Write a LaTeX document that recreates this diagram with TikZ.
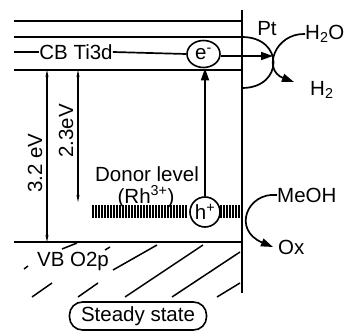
\documentclass[tikz,border=0pt]{standalone}
\usepackage{fontspec}
\setmainfont{Liberation Sans}
\usetikzlibrary{arrows.meta,shapes.geometric}
\tikzset{
  lvl/.style={line width=1.7pt},
  wall/.style={line width=2.3pt},
  lbl/.style={font=\fontsize{20.5}{23}\selectfont, inner sep=0pt},
  carrier/.style={ellipse, draw, line width=1.6pt, inner sep=0pt, font=\fontsize{20.5}{23}\selectfont},
  evarrow/.style={line width=1.7pt, {Stealth[length=7pt,width=3pt]}-{Stealth[length=7pt,width=3pt]}},
  bold arrow/.style={line width=1.7pt, -{Triangle[length=12pt,width=8pt]}},
  hatch/.style={line width=1.5pt},
  bar/.style={line width=1.4pt}
}
\begin{document}
\begin{tikzpicture}[x=1pt,y=-1pt]
\useasboundingbox (0,0) rectangle (348,331);
% energy levels
\draw[lvl] (14,21) -- (242,21);
\draw[lvl] (14,37) -- (242,37);
\draw[lvl] (14,70) -- (242,70);
\draw[lvl] (14,242) -- (242,242);
% surface wall
\draw[wall] (242,10) -- (242,293);
% carriers
\node[carrier, minimum width=33pt, minimum height=27pt] (e) at (203.5,54) {e\textsuperscript{-}};
\node[carrier, minimum width=30pt, minimum height=30pt] (h) at (205,212) {h\textsuperscript{+}};
% CB label line
\node[lbl] (cb) at (76,52) {CB Ti3d};
\draw[lvl] (14,52) -- (cb.west);
\draw[lvl] (cb.east) -- (e.west);
% donor level bars
\foreach \x in {93,96,...,187} \draw[bar] (\x,205) -- (\x,218);
\foreach \x in {221,224,...,240} \draw[bar] (\x,205) -- (\x,218);
\node[lbl] (don) at (147,174) {Donor level};
\node[lbl] (rh) at (146,196.5) {(Rh\textsuperscript{3+})};
% excitation arrow
\draw[bold arrow] (h.north) -- (h.north |- e.south);
% electron to Pt
\coordinate (ptin) at (273,56);
\draw[bold arrow] (e.east |- ptin) -- (ptin);
% Pt particle
\draw[line width=1.7pt] (242,37) .. controls (284,37) and (284,88) .. (242,88);
\node[lbl] (pt) at (267,29) {Pt};
% H2O -> H2
\node[lbl, anchor=west] (h2o) at (305,34) {H\textsubscript{2}O};
\node[lbl, anchor=west] (h2) at (310,90) {H\textsubscript{2}};
\coordinate (h2tip) at (294,82);
\draw[bold arrow] (h2o.west) .. controls (275,33) and (262,70) .. (h2tip);
% MeOH -> Ox
\node[lbl, anchor=west] (meoh) at (277,195) {MeOH};
\node[lbl, anchor=west] (ox) at (278,247) {Ox};
\coordinate (oxtip) at (273,247);
\draw[bold arrow] (meoh.west) .. controls (247,192) and (232,230) .. (oxtip);
% band gap arrows
\coordinate (a1t) at (47,70); \coordinate (a1b) at (47,242);
\coordinate (a2t) at (78,70); \coordinate (a2b) at (78,202);
\draw[evarrow] (a1t) -- (a1b);
\draw[evarrow] (a2t) -- (a2b);
\node[lbl, rotate=90] (g1) at (35,163) {3.2 eV};
\node[lbl, rotate=90] (g2) at (66,131) {2.3eV};
% valence band
\node[lbl] (vb) at (73,261) {VB O2p};
\draw[hatch] (24,269) -- (28,266);
\draw[hatch] (62,249) -- (77,243);
\draw[hatch] (105,250) -- (110,247);
\draw[hatch] (113,270) -- (157,245);
\draw[hatch] (125,297) -- (203,245);
\draw[hatch] (32,297) -- (52,283);
\draw[hatch] (78,297) -- (98,283);
\draw[hatch] (172,297) -- (240,252);
\draw[hatch] (217,297) -- (240,283);
% state box
\node[lbl, draw, line width=1.6pt, rounded corners=13pt, minimum width=137pt, minimum height=28pt] (ss) at (138,316) {Steady state};
\end{tikzpicture}
\end{document}
